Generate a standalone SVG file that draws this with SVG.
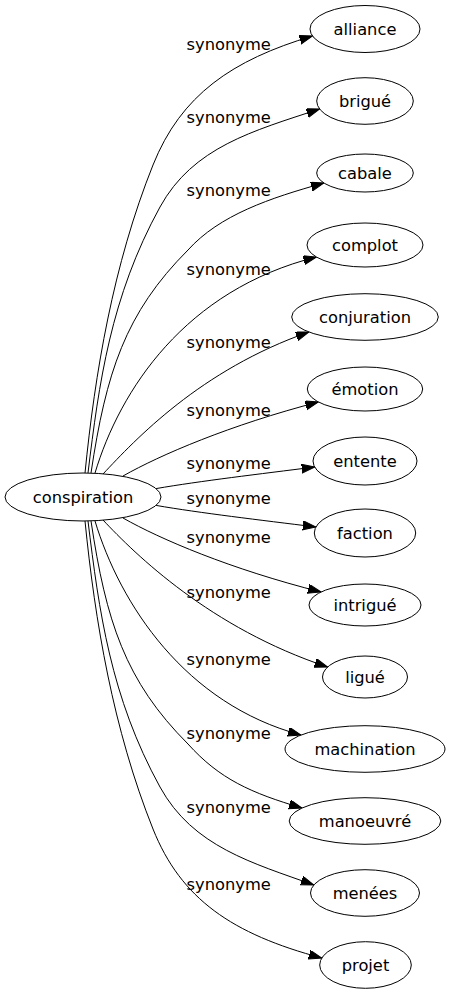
<svg xmlns="http://www.w3.org/2000/svg" width="449" height="995" viewBox="0 0 449 995">
<defs>
<style>
.node ellipse{fill:#fff;stroke:#000;stroke-width:1}
text{font-family:"DejaVu Sans",Verdana,sans-serif;font-size:16.3px;fill:#000;text-anchor:middle}
.edge path{fill:none;stroke:#000;stroke-width:1;marker-end:url(#ah)}
</style>
<marker id="ah" markerUnits="userSpaceOnUse" markerWidth="14" markerHeight="10" refX="13" refY="4.5" orient="auto">
<path d="M0,0 L13,4.5 L0,9 Z" fill="#000" stroke="#000" stroke-width="1"/>
</marker>
</defs>
<rect width="449" height="995" fill="#fff"/>
<g id="connectors">
<g class="edge" id="e-alliance"><path d="M85,473 C95,373 113,265 153,165 C181,95 232,60 312.5,36"/><text x="228.7" y="50">synonyme</text></g>
<g class="edge" id="e-brigue"><path d="M88,473 C99,383 110.5,297 160,207 C193,147 253,131 319.6,109"/><text x="228.7" y="123">synonyme</text></g>
<g class="edge" id="e-cabale"><path d="M91,473 C106,373 125,313 188,250 C219.5,215 270,198 323.9,183"/><text x="228.7" y="196">synonyme</text></g>
<g class="edge" id="e-complot"><path d="M95,473 C120,390 185,290 316.4,257"/><text x="228.7" y="275">synonyme</text></g>
<g class="edge" id="e-conjuration"><path d="M103,474 C135,440 200,370 308.9,332"/><text x="228.7" y="348">synonyme</text></g>
<g class="edge" id="e-emotion"><path d="M123,476 C160,455 230,425 318.4,402"/><text x="228.7" y="416">synonyme</text></g>
<g class="edge" id="e-entente"><path d="M156,488.6 C200,481 260,474 314.7,467"/><text x="228.7" y="469">synonyme</text></g>
<g class="edge" id="e-faction"><path d="M156,505.4 C200,513 260,520 315.9,527"/><text x="228.7" y="504">synonyme</text></g>
<g class="edge" id="e-intrigue"><path d="M123,518 C160,539 230,569 321,592"/><text x="228.7" y="543">synonyme</text></g>
<g class="edge" id="e-ligue"><path d="M103,520 C135,554 210,628 327.6,667"/><text x="228.7" y="598">synonyme</text></g>
<g class="edge" id="e-machination"><path d="M95,521 C120,604 185,704 301,735"/><text x="228.7" y="665">synonyme</text></g>
<g class="edge" id="e-manoeuvre"><path d="M91,521 C106,621 125,681 188,744 C219.5,779 251,793 302,808"/><text x="228.7" y="739">synonyme</text></g>
<g class="edge" id="e-menees"><path d="M88,521 C99,611 110.5,697 160,787 C193,847 253,863 313.8,885"/><text x="228.7" y="813">synonyme</text></g>
<g class="edge" id="e-projet"><path d="M85,521 C95,621 113,729 153,829 C181,899 232,934 321.8,958"/><text x="228.7" y="890">synonyme</text></g>
</g>
<g class="node" id="n-conspiration"><ellipse cx="83" cy="497" rx="78" ry="24"/><text x="83" y="503">conspiration</text></g>
<g class="node" id="n-alliance"><ellipse cx="365" cy="29" rx="55" ry="23.5"/><text x="365" y="35">alliance</text></g>
<g class="node" id="n-brigue"><ellipse cx="365" cy="101" rx="48.3" ry="23.3"/><text x="365" y="107">brigué</text></g>
<g class="node" id="n-cabale"><ellipse cx="365" cy="173" rx="48.3" ry="19"/><text x="365" y="179">cabale</text></g>
<g class="node" id="n-complot"><ellipse cx="365" cy="245" rx="58" ry="22"/><text x="365" y="251">complot</text></g>
<g class="node" id="n-conjuration"><ellipse cx="365" cy="317" rx="73.3" ry="23.3"/><text x="365" y="323">conjuration</text></g>
<g class="node" id="n-emotion"><ellipse cx="365" cy="389" rx="57.7" ry="22"/><text x="365" y="395">émotion</text></g>
<g class="node" id="n-entente"><ellipse cx="365" cy="461" rx="52" ry="24"/><text x="365" y="467">entente</text></g>
<g class="node" id="n-faction"><ellipse cx="365" cy="533" rx="50.7" ry="24"/><text x="365" y="539">faction</text></g>
<g class="node" id="n-intrigue"><ellipse cx="365" cy="605" rx="56" ry="21"/><text x="365" y="611">intrigué</text></g>
<g class="node" id="n-ligue"><ellipse cx="365" cy="677" rx="42.5" ry="21"/><text x="365" y="683">ligué</text></g>
<g class="node" id="n-machination"><ellipse cx="365" cy="749" rx="80" ry="23.3"/><text x="365" y="755">machination</text></g>
<g class="node" id="n-manoeuvre"><ellipse cx="365" cy="821" rx="75.8" ry="23.3"/><text x="365" y="827">manoeuvré</text></g>
<g class="node" id="n-menees"><ellipse cx="365" cy="893" rx="54.5" ry="23.3"/><text x="365" y="899">menées</text></g>
<g class="node" id="n-projet"><ellipse cx="365.5" cy="965" rx="45.8" ry="23.3"/><text x="365.5" y="971">projet</text></g>
</svg>
